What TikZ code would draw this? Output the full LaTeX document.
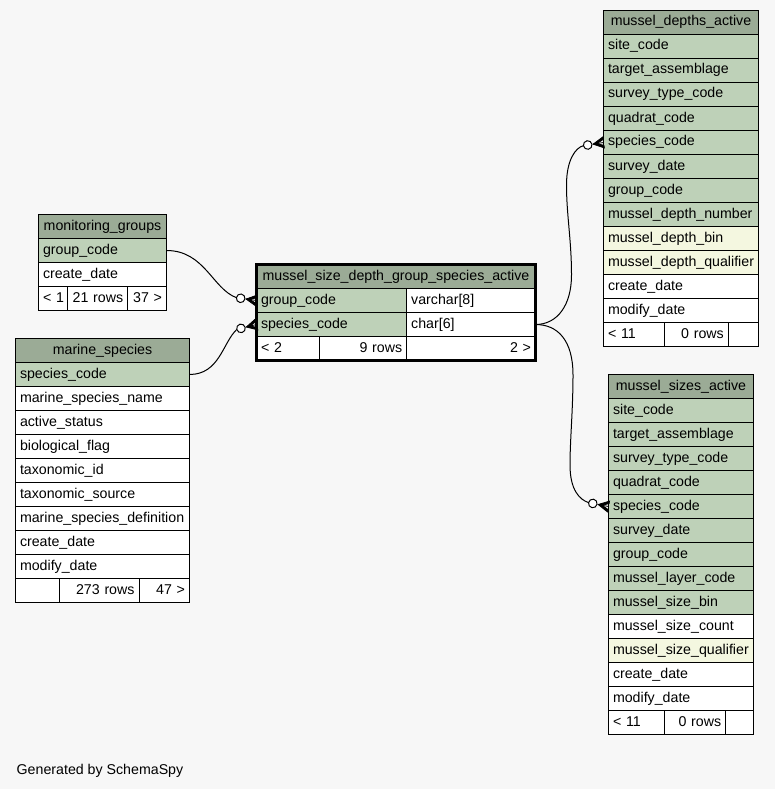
\documentclass[tikz,border=0pt]{standalone}
\usepackage{fontspec}
\setmainfont{Liberation Sans}
\usetikzlibrary{calc}

\definecolor{bgc}{HTML}{F7F7F7}
\definecolor{hdrc}{HTML}{9BAB96}
\definecolor{keyc}{HTML}{BED1B8}
\definecolor{idxc}{HTML}{F4F7E0}

\tikzset{
  cell/.style={draw=black, line width=1pt, anchor=north west, outer sep=0pt,
    minimum height=24pt, inner xsep=4.5pt, inner ysep=0pt,
    text height=10.5pt, text depth=3.5pt},
  hdr/.style={cell, fill=hdrc, minimum width=#1, inner xsep=0pt},
  fld/.style={cell, text width=#1, align=left},
  ftl/.style={cell, fill=white, text width=#1, align=left},
  ftr/.style={cell, fill=white, text width=#1, align=right},
  link/.style={line width=1pt},
  crowodot/.pic={
    \draw[line width=0.8pt, fill=black] (-10.5,0) -- (0,-5.5) -- (0,-3) -- (-6.5,0) -- (0,3) -- (0,5.5) -- cycle;
    \draw[line width=0.8pt] (-10.5,0) -- (0,0);
    \draw[line width=1pt, fill=white] (-16,0) circle (4.3);
    \coordinate (-end) at (-20.3,0);
  }
}

\begin{document}
\begin{tikzpicture}[x=1pt, y=-1pt, font=\fontsize{14.2pt}{17pt}\selectfont]
\useasboundingbox (0,0) rectangle (775,789);
\fill[bgc] (0,0) rectangle (775,789);

% monitoring_groups
\node[hdr=128pt] (mg-0) at (38.5,214.5) {monitoring\_groups};
\foreach \f/\c [count=\i] in {group\_code/keyc, create\_date/white}
  \node[fld=119pt, fill=\c] (mg-\i) at (38.5,{214.5+24*\i}) {\f};
\node[ftl=20.2pt] (mg-f1) at (38.5,286.5) {\mbox{< 1}};
\node[ftr=51pt] (mg-f2) at (67.7,286.5) {21 rows};
\node[ftr=29.8pt] (mg-f3) at (127.7,286.5) {37 >};

% marine_species
\node[hdr=174pt] (ms-0) at (15.5,338.5) {marine\_species};
\foreach \f/\c [count=\i] in {species\_code/keyc, marine\_species\_name/white,
    active\_status/white, biological\_flag/white, taxonomic\_id/white,
    taxonomic\_source/white, marine\_species\_definition/white,
    create\_date/white, modify\_date/white}
  \node[fld=165pt, fill=\c] (ms-\i) at (15.5,{338.5+24*\i}) {\f};
\node[ftl=34.5pt] (ms-f1) at (15.5,578.5) {};
\node[ftr=71pt] (ms-f2) at (59,578.5) {273 rows};
\node[ftr=41.5pt] (ms-f3) at (139,578.5) {47 >};

% mussel_size_depth_group_species_active
\node[hdr=279pt] (sd-0) at (256.5,264.5) {mussel\_size\_depth\_group\_species\_active};
\node[fld=141.2pt, fill=keyc] (sd-1) at (256.5,288.5) {group\_code};
\node[fld=119.8pt, fill=white] (sd-1t) at (406.7,288.5) {varchar[8]};
\node[fld=141.2pt, fill=keyc] (sd-2) at (256.5,312.5) {species\_code};
\node[fld=119.8pt, fill=white] (sd-2t) at (406.7,312.5) {char[6]};
\node[ftl=53.8pt] (sd-f1) at (256.5,336.5) {< 2};
\node[ftr=78.4pt] (sd-f2) at (319.3,336.5) {9 rows};
\node[ftr=119.8pt] (sd-f3) at (406.7,336.5) {2 >};

% mussel_depths_active
\node[hdr=155pt] (md-0) at (603.5,10.5) {mussel\_depths\_active};
\foreach \f/\c [count=\i] in {site\_code/keyc, target\_assemblage/keyc,
    survey\_type\_code/keyc, quadrat\_code/keyc, species\_code/keyc,
    survey\_date/keyc, group\_code/keyc, mussel\_depth\_number/keyc,
    mussel\_depth\_bin/idxc, mussel\_depth\_qualifier/idxc,
    create\_date/white, modify\_date/white}
  \node[fld=146pt, fill=\c] (md-\i) at (603.5,{10.5+24*\i}) {\f};
\node[ftl=51.8pt] (md-f1) at (603.5,322.5) {< 11};
\node[ftr=55pt] (md-f2) at (664.3,322.5) {0 rows};
\node[ftr=21.2pt] (md-f3) at (728.3,322.5) {};

% mussel_sizes_active
\node[hdr=145pt] (mz-0) at (608.5,374.5) {mussel\_sizes\_active};
\foreach \f/\c [count=\i] in {site\_code/keyc, target\_assemblage/keyc,
    survey\_type\_code/keyc, quadrat\_code/keyc, species\_code/keyc,
    survey\_date/keyc, group\_code/keyc, mussel\_layer\_code/keyc,
    mussel\_size\_bin/keyc, mussel\_size\_count/white,
    mussel\_size\_qualifier/idxc, create\_date/white, modify\_date/white}
  \node[fld=136pt, fill=\c] (mz-\i) at (608.5,{374.5+24*\i}) {\f};
\node[ftl=46.8pt] (mz-f1) at (608.5,710.5) {< 11};
\node[ftr=52.4pt] (mz-f2) at (664.3,710.5) {0 rows};
\node[ftr=18.8pt] (mz-f3) at (725.7,710.5) {};

% relationships
\pic[rotate=-8] (e1) at (sd-1.west) {crowodot};
\pic[rotate=14] (e2) at (sd-2.west) {crowodot};
\pic[rotate=9] (e3) at (md-5.west) {crowodot};
\pic[rotate=-11] (e4) at (mz-5.west) {crowodot};

\draw[link] (mg-1.east) .. controls +(38,0) and +(-24,-9) .. (e1-end);
\draw[link] (ms-1.east) .. controls +(30,0) and +(-14,13) .. (e2-end);
\draw[link] (sd-2t.east) .. controls +(22,0) and +(0,30) .. (571.5,275)
  .. controls +(0,-35) and +(0,30) .. (566.5,185)
  .. controls +(0,-25) and +(-8,2) .. (e3-end);
\draw[link] (sd-2t.east) .. controls +(22,0) and +(0,-35) .. (573,375)
  .. controls +(0,35) and +(0,-25) .. (570,465)
  .. controls +(0,25) and +(-9,-3) .. (e4-end);

\draw[line width=3pt] (sd-0.north west) rectangle (sd-f3.south east);

\node[anchor=base west, inner sep=0pt] (gen) at (16.5,774) {Generated by SchemaSpy};
\end{tikzpicture}
\end{document}
